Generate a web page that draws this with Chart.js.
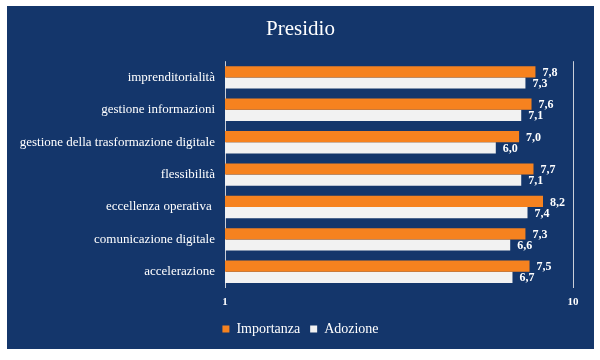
<!DOCTYPE html>
<html><head><meta charset="utf-8">
<script src="https://cdn.jsdelivr.net/npm/chart.js@4.4.0/dist/chart.umd.min.js"></script>
<style>
html,body{margin:0;padding:0;background:#fff;}
#wrap{position:absolute;left:7px;top:6px;width:587px;height:343px;background:#14366b;}
canvas{display:block;}
</style></head><body>
<div id="wrap"><canvas id="c" width="587" height="343"></canvas></div>
<script>
const categories = ["imprenditorialità","gestione informazioni","gestione della trasformazione digitale","flessibilità","eccellenza operativa ","comunicazione digitale","accelerazione"];
const importanza = [7.8, 7.6, 7.0, 7.7, 8.2, 7.3, 7.5];
const adozione = [7.3, 7.1, 6.0, 7.1, 7.4, 6.6, 6.7];
const xTicks = [1, 10];
const seriesNames = ["Importanza", "Adozione"];

const SERIF = "'Liberation Serif', 'Times New Roman', serif";

const valueLabels = {
  id: 'valueLabels',
  afterDatasetsDraw(chart) {
    const ctx = chart.ctx;
    ctx.save();
    ctx.fillStyle = '#ffffff';
    ctx.font = 'bold 12px ' + SERIF;
    ctx.textAlign = 'left';
    ctx.textBaseline = 'middle';
    chart.data.datasets.forEach((ds, di) => {
      const meta = chart.getDatasetMeta(di);
      meta.data.forEach((el, i) => {
        const v = ds.data[i];
        ctx.fillText(v.toFixed(1).replace('.', ','), el.x + 7, el.y + 1);
      });
    });
    ctx.restore();
  }
};

new Chart(document.getElementById('c'), {
  type: 'bar',
  data: {
    labels: categories,
    datasets: [
      { label: seriesNames[0], data: importanza, backgroundColor: '#f6821f', borderWidth: 0, barPercentage: 1, categoryPercentage: 0.69, yAxisID: 'y' },
      { label: seriesNames[1], data: adozione, backgroundColor: '#f2f2f2', borderWidth: 0, barPercentage: 1, categoryPercentage: 0.69, yAxisID: 'y' }
    ]
  },
  options: {
    indexAxis: 'y',
    responsive: false,
    animation: false,
    layout: { padding: { left: 0, right: 0, top: 0, bottom: 3 } },
    plugins: {
      title: {
        display: true, text: 'Presidio', color: '#ffffff',
        font: { family: SERIF, size: 21, weight: 'normal' },
        padding: { top: 11, bottom: 19 }
      },
      legend: {
        position: 'bottom',
        labels: {
          color: '#ffffff', boxWidth: 7, boxHeight: 7, padding: 10,
          font: { family: SERIF, size: 14 }
        }
      },
      tooltip: { enabled: false }
    },
    scales: {
      x: {
        type: 'logarithmic', min: 1, max: 10,
        afterBuildTicks: (s) => { s.ticks = xTicks.map(v => ({ value: v, major: true })); },
        afterFit: (s) => { s.height = 24; },
        ticks: { color: '#ffffff', font: { family: SERIF, size: 11, weight: 'bold' }, padding: 8, callback: (v) => String(v), maxRotation: 0 },
        grid: { color: '#c9ced8', drawTicks: false },
        border: { display: false }
      },
      y: {
        afterFit: (s) => { s.width = 218; },
        ticks: { color: '#ffffff', font: { family: SERIF, size: 13 }, padding: 10 },
        grid: { display: false, drawTicks: false },
        border: { display: false }
      },
      yRight: {
        type: 'category', position: 'right',
        afterFit: (s) => { s.width = 21; },
        ticks: { display: false },
        grid: { display: false, drawTicks: false },
        border: { display: false }
      }
    }
  },
  plugins: [valueLabels]
});
</script>
</body></html>
